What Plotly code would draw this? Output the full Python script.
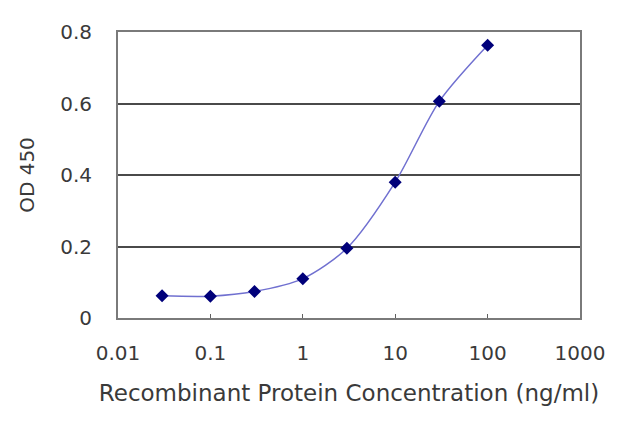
import plotly.graph_objects as go

# concentration (ng/ml) vs OD 450
conc = [0.03, 0.1, 0.3, 1, 3, 10, 30, 100]
od450 = [0.062, 0.061, 0.074, 0.110, 0.195, 0.380, 0.606, 0.763]

xTicks = [0.01, 0.1, 1, 10, 100, 1000]
xTickText = ["0.01", "0.1", "1", "10", "100", "1000"]
yTicks = [0, 0.2, 0.4, 0.6, 0.8]
yTickText = ["0", "0.2", "0.4", "0.6", "0.8"]

fig = go.Figure()
fig.add_trace(go.Scatter(
    x=conc, y=od450, mode="lines+markers",
    line=dict(color="#7070d0", width=1.5, shape="spline", smoothing=0.8),
    marker=dict(symbol="diamond", size=10, color="#00007a"),
    showlegend=False,
))

tickFont = dict(family="DejaVu Sans, sans-serif", size=20, color="#3a3a3a")
titleFont = dict(family="DejaVu Sans, sans-serif", size=23, color="#3a3a3a")

fig.update_xaxes(
    type="log", range=[-2, 3],
    tickvals=xTicks, ticktext=xTickText,
    ticks="inside", ticklen=4, tickcolor="#606060",
    ticklabelstandoff=16,
    showgrid=False, zeroline=False,
    showline=True, linecolor="#7a7a7a", linewidth=2, mirror=True,
    title=dict(text="Recombinant Protein Concentration (ng/ml)", standoff=21),
    tickfont=tickFont, title_font=titleFont,
)
fig.update_yaxes(
    range=[0, 0.8],
    tickvals=yTicks, ticktext=yTickText,
    showgrid=True, gridcolor="#4a4a4a", gridwidth=2,
    zeroline=False,
    showline=True, linecolor="#7a7a7a", linewidth=2, mirror=True,
    ticks="", ticklabelstandoff=20,
    title=dict(text="OD 450", standoff=20),
    tickfont=tickFont, title_font=tickFont,
)

fig.update_layout(
    width=640, height=427,
    margin=dict(l=110, r=68, t=18, b=117),
    plot_bgcolor="white", paper_bgcolor="white",
)

fig.write_html("out.html")
